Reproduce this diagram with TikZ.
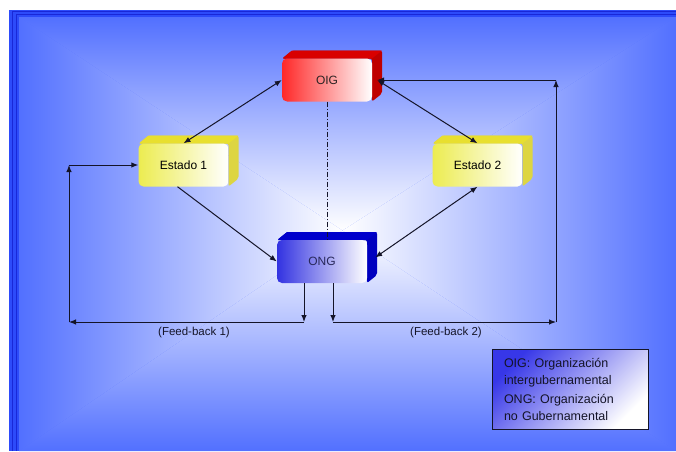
\documentclass[tikz,border=0pt]{standalone}
\usepackage{fontspec}
\setmainfont{Liberation Sans}
\usetikzlibrary{arrows.meta}
\definecolor{bgblue}{RGB}{82,112,255}
\definecolor{rimblue}{RGB}{25,40,215}
\definecolor{stripblue}{RGB}{45,75,250}
\definecolor{ink}{RGB}{20,20,40}
% side faces of the blocks: #1,#2 centre of the front face, #3 top face, #4 right face
\newcommand*\slab[4]{%
  \fill[#4,rounded corners=2pt] (#1-45,#2+21.5) -- (#1-35,#2+29.5) -- (#1+55,#2+29.5) -- (#1+55,#2-13.5) -- (#1+45,#2-21.5) -- (#1+45,#2+21.5) -- cycle;
  \fill[#3] (#1-44,#2+21.5) -- (#1-35,#2+29.5) -- (#1+55,#2+29.5) -- (#1+45,#2+21.5) -- cycle;}

\begin{document}
\begin{tikzpicture}[x=1pt,y=1pt,>={Latex[length=7pt,width=5.5pt]},
    block/.style={rectangle,rounded corners=5pt,minimum width=90pt,minimum height=43pt,inner sep=0pt,shading angle=45,font=\fontsize{12}{14}\selectfont},
    link/.style={ink,line width=1pt},
    fblabel/.style={font=\fontsize{11.5}{13}\selectfont,text=ink}]
    \useasboundingbox (0,0) rectangle (676,451);
    % background
    \fill[bgblue] (9,0) rectangle (676,441);
    \shade[top color=bgblue,bottom color=white] (19,434) -- (676,434) -- (342.5,220.5) -- cycle;
    \shade[top color=white,bottom color=bgblue] (19,0) -- (676,0) -- (342.5,220.5) -- cycle;
    \shade[left color=bgblue,right color=white] (19,0) -- (19,434) -- (342.5,220.5) -- cycle;
    \shade[left color=white,right color=bgblue] (676,0) -- (676,434) -- (342.5,220.5) -- cycle;
    \fill[stripblue] (9,0) rectangle (19,441);
    \fill[stripblue] (9,434) rectangle (676,441);
    \draw[rimblue,line width=1.3pt] (12.5,0) |- (676,439.5);
    \draw[rimblue,line width=1.3pt] (16.5,0) |- (676,436.5);

    \slab{327}{371}{red!85!black}{red!75!black}
    \node[block,left color={rgb,255:red,255;green,40;blue,40},right color=white,text={rgb,255:red,45;green,35;blue,35}] (oig) at (327,371) {OIG};

    \slab{183.5}{286}{yellow!80!gray}{yellow!70!gray}
    \node[block,left color={rgb,255:red,236;green,236;blue,80},right color=white,text=black] (estado1) at (183.5,286) {Estado 1};

    \slab{477.5}{286}{yellow!80!gray}{yellow!70!gray}
    \node[block,left color={rgb,255:red,236;green,236;blue,80},right color=white,text=black] (estado2) at (477.5,286) {Estado 2};

    \slab{322}{189.5}{blue!80!black}{blue!75!black}
    \node[block,left color={rgb,255:red,50;green,50;blue,225},right color=white,text={rgb,255:red,40;green,40;blue,90}] (ong) at (322,189.5) {ONG};

    \draw[link,<->] (oig.west) -- (estado1.north);
    \draw[link,<->] ([xshift=5pt]oig.east) -- (estado2.north);
    \draw[link,->] ([xshift=-6pt]estado1.south) -- (ong.west);
    \draw[link,<->] ([xshift=8pt,yshift=4pt]ong.east) -- (estado2.south);
    \draw[ink,line width=0.8pt,dash pattern=on 5pt off 2pt on 1pt off 2pt] (oig.south) -- (oig.south |- ong.north);

    % feed-back loops
    \coordinate (fb1) at (304,129);
    \coordinate (fb2) at (333,129);
    \coordinate (l1) at (69,129);
    \coordinate (l2) at (69,286);
    \coordinate (r1) at (556,129);
    \coordinate (r2) at (556,371);
    \draw[link,->] (fb1 |- ong.south) -- (fb1);
    \draw[link,->] (fb1) -- (l1);
    \draw[link,->] (l1) -- (l2);
    \draw[link,->] (l2) -- (estado1.west);
    \draw[link,->] (fb2 |- ong.south) -- (fb2);
    \draw[link,->] (fb2) -- (r1);
    \draw[link,->] (r1) -- (r2);
    \draw[link,->] (r2) -- ([xshift=5pt]oig.east);
    \node[fblabel] (fbtext1) at (194,118) {(Feed-back 1)};
    \node[fblabel] (fbtext2) at (446,118) {(Feed-back 2)};

    \node[draw=ink,line width=1pt,left color={rgb,255:red,55;green,55;blue,232},right color=white,shading angle=45,
          minimum width=156pt,minimum height=80pt,inner xsep=12pt,text width=132pt,align=left,
          font=\fontsize{12.5}{17}\selectfont,text=ink] (key) at (570,62)
          {OIG: Organización\\intergubernamental\\[2pt]ONG: Organización\\no Gubernamental};
\end{tikzpicture}
\end{document}
